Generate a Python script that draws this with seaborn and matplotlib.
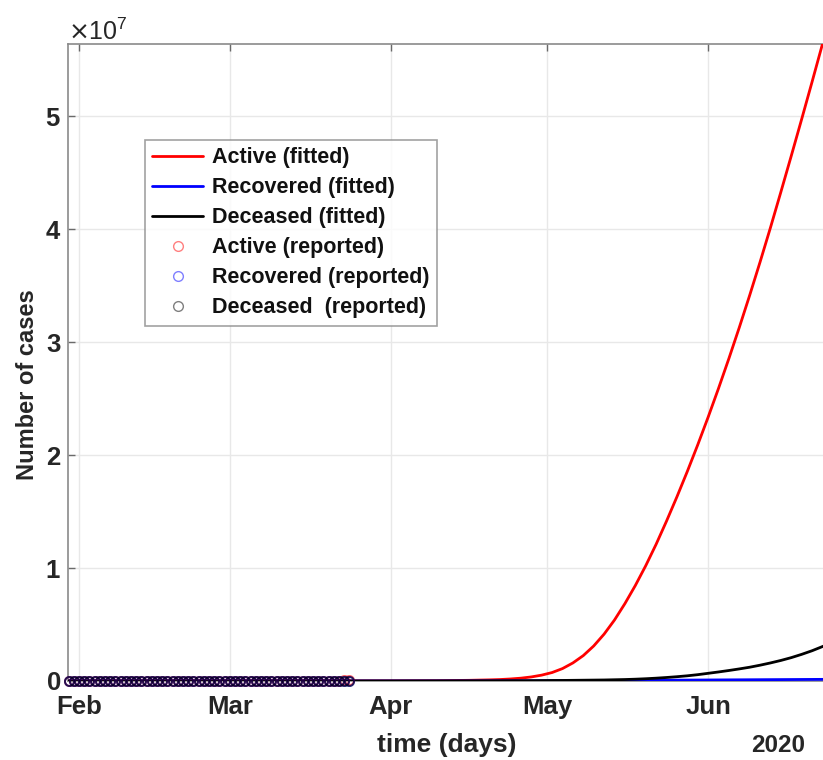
import numpy as np
import pandas as pd
import matplotlib
matplotlib.use("Agg")
import matplotlib.pyplot as plt
from matplotlib.lines import Line2D
from matplotlib.ticker import ScalarFormatter
import seaborn as sns

# ---------------- data ----------------
# reported data (daily, Jan 30 - Mar 24, 2020)
rep_start = "2020-01-30"
active_rep = [2, 2, 2, 2, 2, 2, 2, 2, 2, 3, 3, 3, 3, 3, 3, 3, 3, 3, 3, 3, 3, 3, 3,
              17, 76, 150, 221, 311, 385, 588, 821, 1049, 1577,
              1835, 2263, 2706, 3296, 3916, 5061, 6387, 7985, 8514, 10590,
              12839, 14955, 17750, 20603, 23073, 26062, 28710, 33190, 37860, 42681,
              46638, 50418]
recovered_rep = [0] * 23 + [1, 1, 1, 1, 3, 45, 46, 46, 83, 149,
                            160, 276, 414, 523, 589, 622, 724, 1004, 1045, 1258,
                            1439, 1966, 2335, 2749, 2941, 4025, 4440, 5129, 6072, 7024,
                            7432, 8326]
deceased_rep = [0] * 23 + [0, 2, 3, 7, 10, 12, 17, 21, 29, 34,
                           52, 79, 107, 148, 197, 233, 366, 463, 631, 827,
                           1016, 1266, 1441, 1809, 2158, 2503, 2978, 3405, 4032, 4825,
                           5476, 6077]

# fitted curves (values in units of 1e7 cases)
fit_dates = ["2020-01-30", "2020-03-01", "2020-04-01", "2020-04-10", "2020-04-16",
             "2020-04-20", "2020-04-22", "2020-04-24", "2020-04-26", "2020-04-28",
             "2020-04-30", "2020-05-02",
             "2020-05-04", "2020-05-06", "2020-05-08", "2020-05-10", "2020-05-12",
             "2020-05-14", "2020-05-16", "2020-05-18", "2020-05-20", "2020-05-22",
             "2020-05-24", "2020-05-26", "2020-05-28", "2020-05-30", "2020-06-01",
             "2020-06-03", "2020-06-05", "2020-06-07", "2020-06-09", "2020-06-11",
             "2020-06-13", "2020-06-15", "2020-06-17", "2020-06-19", "2020-06-21",
             "2020-06-23", "2020-06-25"]
active_fit = [0.0, 0.0003, 0.0015, 0.003, 0.006,
              0.010, 0.013, 0.018, 0.025, 0.036,
              0.052, 0.075,
              0.11, 0.16, 0.225, 0.31, 0.415,
              0.54, 0.685, 0.845, 1.02, 1.21,
              1.415, 1.63, 1.855, 2.09, 2.335,
              2.59, 2.855, 3.13, 3.415, 3.71,
              4.015, 4.33, 4.65, 4.975, 5.305,
              5.64, 5.975]
recovered_fit = [0.0, 0.0, 0.0002, 0.0005, 0.0008,
                 0.001, 0.0011, 0.0013, 0.0015, 0.0017,
                 0.002, 0.0024,
                 0.0027, 0.003, 0.0034, 0.0038, 0.0042,
                 0.0046, 0.005, 0.0055, 0.006, 0.0065,
                 0.007, 0.0075, 0.008, 0.0085, 0.009,
                 0.0095, 0.010, 0.0105, 0.011, 0.0115,
                 0.012, 0.0125, 0.013, 0.0135, 0.014,
                 0.0145, 0.015]
deceased_fit = [0.0, 0.0, 0.0001, 0.0005, 0.001,
                0.0015, 0.0017, 0.002, 0.0025, 0.003,
                0.0037, 0.0045,
                0.005, 0.006, 0.007, 0.008, 0.009,
                0.011, 0.013, 0.016, 0.020, 0.025,
                0.031, 0.038, 0.046, 0.056, 0.068,
                0.080, 0.093, 0.107, 0.122, 0.140,
                0.160, 0.182, 0.207, 0.236, 0.268,
                0.305, 0.345]

x_ticks = ["2020-02-01", "2020-03-01", "2020-04-01", "2020-05-01", "2020-06-01"]
x_tick_labels = ["Feb", "Mar", "Apr", "May", "Jun"]
y_ticks = [0, 1e7, 2e7, 3e7, 4e7, 5e7]

# ---------------- build frames ----------------
rep_dates = pd.date_range(rep_start, periods=len(active_rep), freq="D")
df_rep = pd.DataFrame({"date": rep_dates, "Active": active_rep,
                       "Recovered": recovered_rep, "Deceased": deceased_rep})
fd = pd.to_datetime(fit_dates)
df_fit = pd.DataFrame({"date": fd,
                       "Active": np.array(active_fit) * 1e7,
                       "Recovered": np.array(recovered_fit) * 1e7,
                       "Deceased": np.array(deceased_fit) * 1e7})

# ---------------- plot ----------------
sns.set_style("white")
plt.rcParams["font.family"] = ["Liberation Sans", "DejaVu Sans"]
TXT = "#262626"

fig = plt.figure(figsize=(8.23, 7.6), dpi=100)
ax = fig.add_axes([68 / 823, 79 / 760, 1 - 68 / 823, 637 / 760])

colors = {"Active": "#ff0000", "Recovered": "#0000ff", "Deceased": "#000000"}
for name in ["Active", "Recovered", "Deceased"]:
    sns.lineplot(data=df_fit, x="date", y=name, ax=ax, color=colors[name],
                 linewidth=2.0, legend=False, zorder=3, clip_on=True)
for name in ["Active", "Recovered", "Deceased"]:
    sns.lineplot(data=df_rep, x="date", y=name, ax=ax, color=colors[name],
                 marker="o", linestyle="none", markersize=6.5,
                 markerfacecolor="none", markeredgecolor=colors[name],
                 markeredgewidth=1.4, alpha=0.6, legend=False, zorder=4,
                 clip_on=False)

x0 = pd.Timestamp("2020-02-01")
ax.set_xlim(x0 - pd.Timedelta(days=2.1), x0 + pd.Timedelta(days=143.1))
ax.set_ylim(0, 5.64e7)

ax.set_xticks(pd.to_datetime(x_ticks))
ax.set_xticklabels(x_tick_labels)
ax.set_yticks(y_ticks)
fmt = ScalarFormatter(useMathText=True)
fmt.set_scientific(True)
fmt.set_powerlimits((0, 0))
ax.yaxis.set_major_formatter(fmt)
ax.yaxis.get_offset_text().set_fontsize(18)
ax.yaxis.get_offset_text().set_color(TXT)

ax.grid(True, color="#e8e8e8", linewidth=1.0)
ax.set_axisbelow(True)
for s in ["left", "top", "bottom"]:
    ax.spines[s].set_color("#8a8a8a")
    ax.spines[s].set_linewidth(1.2)
ax.spines["right"].set_visible(False)

ax.tick_params(axis="both", direction="in", length=5, width=1, color="#6a6a6a",
               labelsize=18.5, labelcolor=TXT)
ax.tick_params(axis="x", pad=10, top=True)
ax.tick_params(axis="y", pad=5, left=True)
for lbl in ax.get_xticklabels() + ax.get_yticklabels():
    lbl.set_fontweight("bold")

ax.set_xlabel("time (days)", fontsize=19, fontweight="bold", color=TXT)
ax.xaxis.label.set_va("center")
ax.xaxis.set_label_coords(0.502, -0.1005)
ax.set_ylabel("Number of cases", fontsize=17, fontweight="bold", color=TXT)
ax.yaxis.label.set_va("center")
ax.yaxis.set_label_coords(-0.053, 0.465)
fig.text(778 / 823, 1 - 745 / 760, "2020", fontsize=17.5, fontweight="bold",
         color=TXT, ha="center", va="center")

handles = [
    Line2D([], [], color="#ff0000", lw=2),
    Line2D([], [], color="#0000ff", lw=2),
    Line2D([], [], color="#000000", lw=2),
    Line2D([], [], color="#ff0000", marker="o", ls="none", markerfacecolor="none",
           markersize=7, alpha=0.5),
    Line2D([], [], color="#0000ff", marker="o", ls="none", markerfacecolor="none",
           markersize=7, alpha=0.5),
    Line2D([], [], color="#000000", marker="o", ls="none", markerfacecolor="none",
           markersize=7, alpha=0.5),
]
labels = ["Active (fitted)", "Recovered (fitted)", "Deceased (fitted)",
          "Active (reported)", "Recovered (reported)", "Deceased  (reported)"]
leg = ax.legend(handles, labels, loc="upper left", bbox_to_anchor=(0.102, 0.849),
                prop={"weight": "bold", "size": 15.5}, frameon=True, fancybox=False,
                edgecolor="#8a8a8a", handlelength=2.37, handletextpad=0.42,
                labelspacing=0.42, borderpad=0.33, borderaxespad=0)
leg.get_frame().set_linewidth(1.2)
for t in leg.get_texts():
    t.set_color("#111111")

fig.savefig("out.png", dpi=100)
